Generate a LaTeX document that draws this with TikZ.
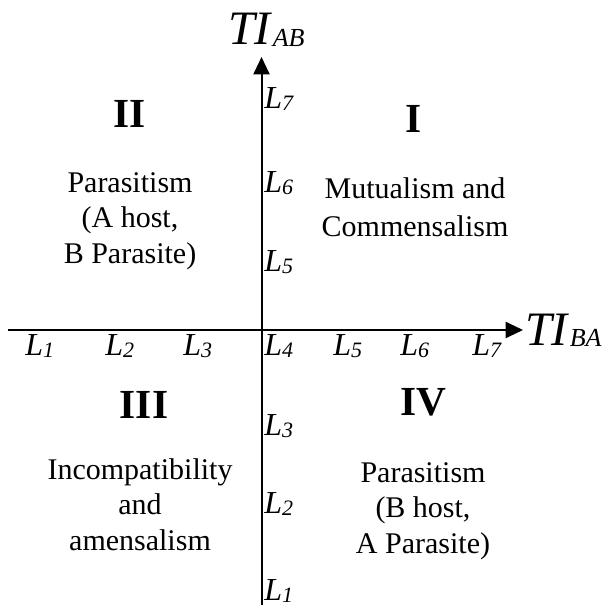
\documentclass[tikz,border=0pt]{standalone}
\usepackage{fontspec}
\setmainfont{Liberation Serif}
\usetikzlibrary{arrows.meta}

% level label L_n, subscript set a little low
\newcommand{\lvl}[1]{\textit{L}\raisebox{-1.5pt}{\fontsize{16.5}{18}\selectfont\itshape #1}}
% axis title TI_xy
\newcommand{\tiname}[1]{\textit{TI}\raisebox{-1pt}{\fontsize{19.5}{22}\selectfont\itshape #1}}

\tikzset{
  axis/.style={line width=1.5pt,-{Triangle[length=13pt,width=12pt]}},
  lvlbox/.style={inner sep=0pt,anchor=base west,font=\fontsize{24}{28}\selectfont},
  quadnum/.style={inner sep=0pt,anchor=base,font=\fontsize{31}{36}\selectfont\bfseries},
  quadtext/.style={inner sep=0pt,anchor=base,align=center,font=\fontsize{22.5}{26.5}\selectfont}
}

\begin{document}
\begin{tikzpicture}[x=0.75pt,y=-0.75pt]
  \useasboundingbox (0,0) rectangle (604,605);
  % axes
  \coordinate (xs) at (8,330);
  \coordinate (xe) at (523,330);
  \coordinate (ys) at (261.5,605);
  \coordinate (ye) at (261.5,57);
  \draw[axis] (xs) -- (xe);
  \draw[axis] (ys) -- (ye);
  % axis titles
  \node[inner sep=0pt,anchor=base west,font=\fontsize{36}{40}\selectfont] (tiab) at (228,45) {\tiname{AB}};
  \node[inner sep=0pt,anchor=base west,font=\fontsize{36}{40}\selectfont] (tiba) at (525,345) {\tiname{BA}};
  % levels along TI_BA
  \node[lvlbox] (h1) at (25,355) {\lvl{1}};
  \node[lvlbox] (h2) at (105,355) {\lvl{2}};
  \node[lvlbox] (h3) at (183,355) {\lvl{3}};
  \node[lvlbox] (h4) at (264,355) {\lvl{4}};
  \node[lvlbox] (h5) at (333,355) {\lvl{5}};
  \node[lvlbox] (h6) at (400,355) {\lvl{6}};
  \node[lvlbox] (h7) at (472,355) {\lvl{7}};
  % levels along TI_AB
  \node[lvlbox] (v7) at (264,109) {\lvl{7}};
  \node[lvlbox] (v6) at (264,193) {\lvl{6}};
  \node[lvlbox] (v5) at (264,272) {\lvl{5}};
  \node[lvlbox] (v3) at (264,435) {\lvl{3}};
  \node[lvlbox] (v2) at (264,513) {\lvl{2}};
  \node[lvlbox] (v1) at (264,600) {\lvl{1}};
  % quadrants (text nodes sit on their last line)
  \node[quadnum] (qI) at (414,133) {I};
  \node[quadtext,font=\fontsize{22.5}{29}\selectfont] (tI) at (415,237) {Mutualism and\\Commensalism};
  \node[quadnum] (qII) at (130,128) {II};
  \node[quadtext] (tII) at (130,263) {Parasitism\\(A host,\\B Parasite)};
  \node[quadnum] (qIII) at (144,418) {III};
  \node[quadtext] (tIII) at (140,550) {Incompatibility\\and\\amensalism};
  \node[quadnum] (qIV) at (423,415) {IV};
  \node[quadtext] (tIV) at (423,553) {Parasitism\\(B host,\\A Parasite)};
\end{tikzpicture}
\end{document}
